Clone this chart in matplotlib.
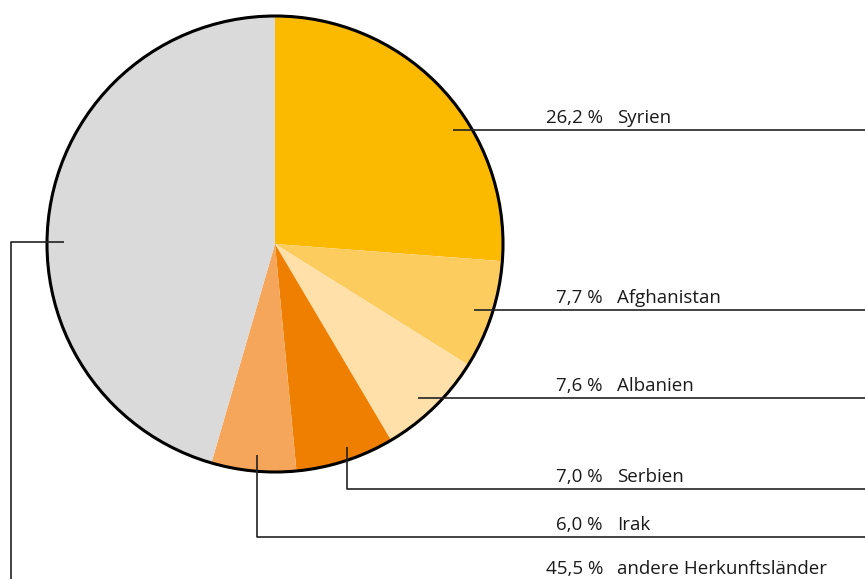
import matplotlib.pyplot as plt
from matplotlib.patches import Circle

# shares of asylum first applications by country of origin
countries = ["Syrien", "Afghanistan", "Albanien", "Serbien", "Irak", "andere Herkunftsländer"]
shares = [26.2, 7.7, 7.6, 7.0, 6.0, 45.5]
colors = ["#FBB900", "#FDCC5E", "#FFE0A8", "#EE7F00", "#F5A65A", "#DADADA"]

W, H = 865, 579
cx, cy, r = 275, H - 244, 228

fig = plt.figure(figsize=(W / 100, H / 100), dpi=100)
ax = fig.add_axes([0, 0, 1, 1])

ax.pie(shares, colors=colors, startangle=90, counterclock=False,
       center=(cx, cy), radius=r, frame=True,
       wedgeprops=dict(linewidth=0))
ax.add_patch(Circle((cx, cy), r, fill=False, edgecolor="black", lw=2.2, zorder=3))
ax.set_xlim(0, W)
ax.set_ylim(0, H)
ax.set_aspect("equal")
ax.axis("off")

# leader lines (pixel coords from top): anchor point in slice, then label line
line_kw = dict(color="#222222", lw=1.2, zorder=4, solid_capstyle="butt")
anchors = [(453, 130), (474, 310), (418, 398), (347, 447), (257, 455)]
line_ys = [130, 310, 398, 489, 537]
for (ax0, ay0), ly in zip(anchors, line_ys):
    if ay0 == ly:
        ax.plot([ax0, W], [H - ly, H - ly], **line_kw)
    else:
        ax.plot([ax0, ax0, W], [H - ay0, H - ly, H - ly], **line_kw)
# "andere" goes out to the left and down
ax.plot([64, 11, 11], [H - 242, H - 242, -5], **line_kw)

label_ys = line_ys + [581]
txt_kw = dict(fontsize=13.5, family="Open Sans", color="#1a1a1a", va="baseline")
for name, val, ly in zip(countries, shares, label_ys):
    pct = f"{val:.1f}".replace(".", ",") + " %"
    ax.text(603, H - ly + 7, pct, ha="right", **txt_kw)
    ax.text(617, H - ly + 7, name, ha="left", **txt_kw)

fig.savefig("out.png", dpi=100)
